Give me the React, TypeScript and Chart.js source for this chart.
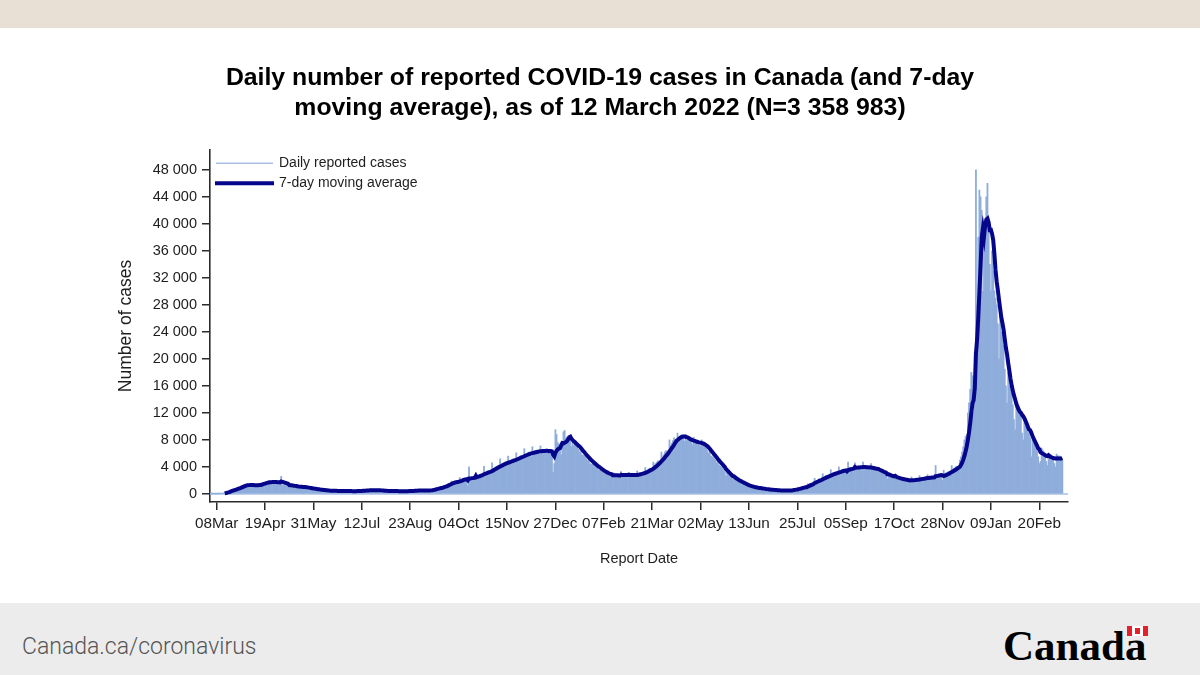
import React, { useEffect, useRef } from 'react';
import { Chart, registerables } from 'chart.js';

Chart.register(...registerables);

// ---------------- DATA ----------------
const START_DATE = '2020-03-02'; // first daily value (Monday)
const MA_FIRST_DATE = '2020-03-15'; // first day the 7-day average is shown

const TITLE_LINES = [
  'Daily number of reported COVID-19 cases in Canada (and 7-day',
  'moving average), as of 12 March 2022 (N=3 358 983)',
];

const SERIES_LABELS = ['Daily reported cases', '7-day moving average'];

// Daily reported cases, one week (Mon..Sun) per row, from 2020-03-02 to 2022-03-12
const DAILY_CASES: number[] = [
  3, 4, 5, 6, 8, 10, 12,
  20, 30, 45, 70, 110, 160, 250,
  250, 300, 380, 480, 560, 620, 700,
  650, 720, 800, 900, 980, 1050, 1100,
  1200, 1250, 1350, 1400, 1450, 1300, 1150,
  1250, 1300, 1400, 1350, 1300, 1250, 1150,
  1300, 1400, 1500, 1600, 1700, 1650, 1550,
  1700, 1750, 1850, 1900, 1800, 1750, 1700,
  1650, 1700, 1800, 1750, 1700, 1650, 2600,
  1350, 1300, 1400, 1350, 1300, 1250, 1200,
  1250, 1150, 1200, 1150, 1100, 1050, 1000,
  1000, 1050, 1100, 1050, 1000, 950, 900,
  900, 850, 850, 800, 780, 750, 700,
  720, 680, 650, 620, 600, 580, 560,
  560, 520, 510, 500, 480, 460, 440,
  480, 470, 460, 450, 440, 420, 400,
  460, 450, 440, 430, 420, 410, 400,
  430, 410, 400, 420, 410, 400, 390,
  420, 430, 450, 460, 470, 440, 420,
  520, 500, 540, 550, 560, 530, 500,
  580, 560, 570, 580, 560, 530, 500,
  520, 490, 480, 470, 460, 430, 400,
  420, 440, 430, 420, 430, 410, 390,
  420, 410, 400, 390, 400, 380, 370,
  430, 420, 410, 430, 420, 410, 400,
  480, 470, 500, 520, 510, 490, 480,
  560, 540, 530, 520, 510, 500, 480,
  500, 480, 560, 620, 680, 700, 720,
  800, 820, 880, 920, 960, 980, 1000,
  1200, 1250, 1300, 1400, 1500, 1550, 1600,
  1900, 1700, 1750, 1800, 1850, 1750, 1700,
  2400, 2100, 2200, 2300, 2250, 2100, 1900,
  1200, 4000, 2300, 2400, 2450, 2300, 2200,
  3200, 2600, 2700, 2800, 2900, 2750, 2600,
  4100, 3000, 3100, 3300, 3400, 3200, 3000,
  4600, 3700, 3800, 4000, 4100, 3900, 3700,
  5200, 4300, 4400, 4600, 4700, 4500, 4200,
  5600, 4700, 4800, 5100, 5200, 4900, 4600,
  6100, 5200, 5400, 5600, 5700, 5400, 5100,
  6700, 5700, 5900, 6100, 6200, 5900, 5500,
  7000, 6000, 6200, 6400, 6500, 6100, 5900,
  7100, 6100, 6300, 6500, 6600, 6200, 6000,
  6600, 6200, 6400, 6100, 3200, 4500, 9500,
  8800, 7600, 7400, 6500, 5800, 7200, 9200,
  9400, 8200, 8400, 8300, 8000, 7800, 7000,
  8000, 7200, 7300, 7000, 6900, 6600, 6200,
  6600, 5800, 5700, 5600, 5400, 5200, 4900,
  5300, 4500, 4400, 4400, 4300, 4100, 3900,
  4200, 3600, 3500, 3500, 3400, 3200, 3000,
  3400, 2900, 2900, 2900, 2850, 2700, 2600,
  2400, 3100, 2800, 2900, 2800, 2600, 2400,
  3300, 2700, 2800, 2900, 2900, 2700, 2500,
  3200, 2700, 2800, 2800, 2900, 2600, 2500,
  3400, 2900, 3000, 3100, 3200, 3000, 2800,
  3900, 3400, 3500, 3700, 3800, 3600, 3400,
  4700, 4300, 4500, 4700, 4900, 4700, 4500,
  6200, 5500, 5800, 6200, 6400, 6100, 6000,
  8000, 7200, 7500, 7900, 8300, 8100, 7800,
  9000, 8300, 8500, 8700, 8800, 8300, 7800,
  8800, 7900, 8000, 8100, 8000, 7600, 7300,
  8400, 7500, 7600, 7700, 7600, 7300, 7100,
  8000, 7200, 7000, 6900, 6800, 6400, 6000,
  6600, 5600, 5500, 5400, 5200, 5000, 4600,
  4800, 4300, 4100, 4000, 3900, 3600, 3300,
  2600, 3200, 2800, 2700, 2600, 2400, 2200,
  2400, 2000, 1950, 1900, 1850, 1700, 1550,
  1700, 1400, 1350, 1300, 1250, 1100, 1000,
  1250, 1000, 980, 950, 920, 850, 770,
  950, 800, 780, 760, 740, 670, 600,
  750, 650, 620, 600, 590, 560, 500,
  650, 560, 520, 510, 500, 450, 440,
  600, 510, 490, 480, 480, 440, 420,
  650, 640, 650, 680, 700, 660, 640,
  1000, 900, 950, 1000, 1050, 980, 950,
  1100, 1500, 1450, 1550, 1600, 1500, 1450,
  2300, 1900, 2000, 2100, 2200, 2000, 1900,
  3000, 2500, 2600, 2700, 2750, 2500, 2350,
  3600, 3000, 3100, 3150, 3200, 2900, 2750,
  4000, 3400, 3450, 3600, 3650, 3300, 3000,
  2900, 4700, 3900, 3900, 3950, 3600, 3300,
  4600, 3900, 4000, 4100, 4000, 3700, 3400,
  4700, 3900, 4000, 4000, 3900, 3600, 3500,
  4500, 3700, 3700, 3700, 3600, 3400, 3300,
  3900, 3200, 3100, 3100, 3000, 2900, 2800,
  2200, 3200, 2700, 2600, 2550, 2500, 2400,
  2700, 2250, 2200, 2200, 2200, 2100, 2050,
  2400, 2000, 1950, 2000, 1950, 1850, 1800,
  2500, 2050, 2100, 2100, 2100, 1950, 1900,
  2700, 2300, 2300, 2350, 2300, 2200, 2100,
  2850, 2400, 2450, 2450, 2450, 2300, 2250,
  4200, 2500, 2600, 2700, 2750, 2500, 2000,
  3500, 3000, 3100, 3200, 3300, 3100, 2850,
  4200, 3600, 3800, 3900, 4100, 4000, 3700,
  5000, 5500, 6200, 7000, 8000, 8500, 8800,
  12000, 13500, 15500, 18000, 17500, 12000, 21000,
  48000, 28000, 38000, 45000, 44000, 42000, 30000,
  40000, 39600, 44000, 46000, 40000, 34000, 30100,
  36000, 33000, 30100, 29000, 28000, 25200, 20000,
  27000, 24000, 23900, 22000, 18500, 16000, 13400,
  18000, 16000, 15500, 15000, 13200, 11000, 9500,
  13500, 12800, 12700, 12600, 12000, 9000, 8000,
  11500, 10000, 9800, 9600, 9000, 8300, 5500,
  8000, 7500, 7200, 7000, 6700, 5500, 4500,
  4800, 6800, 6500, 6200, 5900, 4800, 4200,
  5800, 5600, 5800, 5600, 5400, 4500, 4000,
  5900, 5700, 5500, 5600, 5400, 5000,
];

const X_TICK_DATES = [
  '2020-03-08', '2020-04-19', '2020-05-31', '2020-07-12', '2020-08-23', '2020-10-04',
  '2020-11-15', '2020-12-27', '2021-02-07', '2021-03-21', '2021-05-02', '2021-06-13',
  '2021-07-25', '2021-09-05', '2021-10-17', '2021-11-28', '2022-01-09', '2022-02-20',
];
const X_TICK_LABELS = [
  '08Mar', '19Apr', '31May', '12Jul', '23Aug', '04Oct', '15Nov', '27Dec', '07Feb',
  '21Mar', '02May', '13Jun', '25Jul', '05Sep', '17Oct', '28Nov', '09Jan', '20Feb',
];
const Y_TICKS = [0, 4000, 8000, 12000, 16000, 20000, 24000, 28000, 32000, 36000, 40000, 44000, 48000];

const X_TITLE = 'Report Date';
const Y_TITLE = 'Number of cases';

// ---------------- STYLE ----------------
const FONT = "'Liberation Sans', Arial, Helvetica, sans-serif";
const BAR_COLOR = 'rgb(143,173,219)';
const BASE_COLOR = 'rgb(168,192,228)';
const MA_COLOR = '#06068a';
const AXIS_COLOR = '#2b2b2b';
const TEXT_COLOR = '#1e1e1e';

const dayIndex = (iso: string) => {
  const [y, m, d] = iso.split('-').map(Number);
  const [y0, m0, d0] = START_DATE.split('-').map(Number);
  return Math.round((Date.UTC(y, m - 1, d) - Date.UTC(y0, m0 - 1, d0)) / 86400000);
};

const fmtThousands = (v: number) => String(v).replace(/\B(?=(\d{3})+(?!\d))/g, ' ');

const baselinePlugin = {
  id: 'needleBaseline',
  beforeDatasetsDraw(chart: any) {
    const { ctx, chartArea, scales } = chart;
    const y = scales.y.getPixelForValue(0);
    ctx.save();
    ctx.strokeStyle = BASE_COLOR;
    ctx.lineWidth = 1.5;
    ctx.beginPath();
    ctx.moveTo(chartArea.left, y);
    ctx.lineTo(chartArea.right, y);
    ctx.stroke();
    ctx.restore();
  },
};

const insetLegendPlugin = {
  id: 'insetLegend',
  afterDraw(chart: any) {
    const { ctx, chartArea } = chart;
    const ds = chart.data.datasets;
    const x0 = chartArea.left;
    const y0 = chartArea.top;
    ctx.save();
    ctx.font = `14px ${FONT}`;
    ctx.fillStyle = TEXT_COLOR;
    ctx.textBaseline = 'middle';
    ctx.textAlign = 'left';
    // row 1: thin light line
    ctx.strokeStyle = BASE_COLOR;
    ctx.lineWidth = 1.5;
    ctx.beginPath();
    ctx.moveTo(x0 + 6, y0 + 13.3);
    ctx.lineTo(x0 + 63, y0 + 13.3);
    ctx.stroke();
    ctx.fillText(ds[0].label, x0 + 69, y0 + 13.5);
    // row 2: thick navy line
    ctx.strokeStyle = MA_COLOR;
    ctx.lineWidth = 4;
    ctx.beginPath();
    ctx.moveTo(x0 + 5, y0 + 33.3);
    ctx.lineTo(x0 + 64, y0 + 33.3);
    ctx.stroke();
    ctx.fillText(ds[1].label, x0 + 69, y0 + 33.5);
    ctx.restore();
  },
};

export default function App() {
  const ref = useRef<HTMLCanvasElement>(null);

  useEffect(() => {
    if (!ref.current) return;
    const bars = DAILY_CASES.map((v, i) => ({ x: i, y: v }));
    const maStart = dayIndex(MA_FIRST_DATE);
    const ma = DAILY_CASES.map((_, i) => {
      if (i < maStart || i < 6) return { x: i, y: null as number | null };
      let s = 0;
      for (let k = i - 6; k <= i; k++) s += DAILY_CASES[k];
      return { x: i, y: s / 7 };
    });
    const tickIdx = X_TICK_DATES.map(dayIndex);
    const firstTick = tickIdx[0];

    const chart = new Chart(ref.current, {
      type: 'bar',
      data: {
        datasets: [
          {
            type: 'bar',
            label: SERIES_LABELS[0],
            data: bars as any,
            backgroundColor: BAR_COLOR,
            borderWidth: 0,
            barPercentage: 1,
            categoryPercentage: 1,
            order: 2,
          } as any,
          {
            type: 'line',
            label: SERIES_LABELS[1],
            data: ma as any,
            borderColor: MA_COLOR,
            borderWidth: 4,
            pointRadius: 0,
            tension: 0,
            fill: false,
            order: 1,
          } as any,
        ],
      },
      options: {
        animation: false,
        responsive: false,
        events: [],
        layout: { padding: { left: 100, right: 100, top: 0, bottom: 31 } },
        plugins: {
          legend: { display: false },
          tooltip: { enabled: false },
          title: {
            display: true,
            text: TITLE_LINES,
            color: '#000',
            font: { family: FONT, size: 24.8, weight: 'bold', lineHeight: 29.5 / 24.8 },
            padding: { top: 35.5, bottom: 27.5 },
          },
        },
        scales: {
          x: {
            type: 'linear',
            offset: false,
            min: firstTick - 5.8,
            max: firstTick + 738.9,
            afterBuildTicks: (s: any) => {
              s.ticks = tickIdx.map((v) => ({ value: v }));
            },
            afterFit: (s: any) => {
              s.height = 70;
            },
            ticks: {
              autoSkip: false,
              maxRotation: 0,
              minRotation: 0,
              padding: 5,
              color: TEXT_COLOR,
              font: { family: FONT, size: 15.3 },
              callback: (_v: any, i: number) => X_TICK_LABELS[i],
            },
            grid: {
              offset: false,
              drawOnChartArea: false,
              drawTicks: true,
              tickLength: 8,
              color: AXIS_COLOR,
              lineWidth: 1.5,
            },
            border: { display: true, color: AXIS_COLOR, width: 1.6 },
            title: {
              display: true,
              text: X_TITLE,
              color: TEXT_COLOR,
              font: { family: FONT, size: 14.5 },
              padding: { top: 0, bottom: 4.6 },
            },
          } as any,
          y: {
            type: 'linear',
            min: -1200,
            max: 50950,
            afterBuildTicks: (s: any) => {
              s.ticks = Y_TICKS.map((v) => ({ value: v }));
            },
            afterFit: (s: any) => {
              s.width = 110;
            },
            ticks: {
              padding: 5,
              color: TEXT_COLOR,
              font: { family: FONT, size: 14.5 },
              callback: (v: any) => fmtThousands(Number(v)),
            },
            grid: {
              drawOnChartArea: false,
              drawTicks: true,
              tickLength: 8,
              color: AXIS_COLOR,
              lineWidth: 1.5,
            },
            border: { display: true, color: AXIS_COLOR, width: 1.6 },
            title: {
              display: true,
              text: Y_TITLE,
              color: TEXT_COLOR,
              font: { family: FONT, size: 17.5 },
              padding: { top: 15.5, bottom: 0 },
            },
          } as any,
          // empty right-hand spacer so the title is centred on the page
          ySpacer: {
            type: 'linear',
            position: 'right',
            display: true,
            ticks: { display: false },
            grid: { display: false, drawTicks: false },
            border: { display: false },
            afterFit: (s: any) => {
              s.width = 32;
            },
          } as any,
        },
      },
      plugins: [baselinePlugin, insetLegendPlugin],
    } as any);

    return () => chart.destroy();
  }, []);

  return (
    <div
      style={{
        position: 'fixed',
        left: 0,
        top: 0,
        width: 1200,
        height: 675,
        background: '#ffffff',
        overflow: 'hidden',
      }}
    >
      <div style={{ position: 'absolute', left: 0, top: 0, width: 1200, height: 28, background: '#e8dfd5' }} />
      <canvas
        ref={ref}
        width={1200}
        height={575}
        style={{ position: 'absolute', left: 0, top: 28, width: 1200, height: 575, display: 'block' }}
      />
      <div style={{ position: 'absolute', left: 0, top: 603, width: 1200, height: 72, background: '#ececec' }}>
        <div
          style={{
            position: 'absolute',
            left: 22,
            top: 31,
            height: 25,
            lineHeight: '25px',
            fontFamily: "Roboto, 'Liberation Sans', sans-serif",
            fontWeight: 300,
            fontSize: 23,
            color: '#555555',
            whiteSpace: 'nowrap',
          }}
        >
          Canada.ca/coronavirus
        </div>
        <div
          style={{
            position: 'absolute',
            left: 1003,
            top: 21,
            height: 43,
            lineHeight: 1,
            fontFamily: "'Liberation Serif', 'Times New Roman', serif",
            fontWeight: 'bold',
            fontSize: 43,
            color: '#000',
            whiteSpace: 'nowrap',
          }}
        >
          Canada
        </div>
        <div style={{ position: 'absolute', left: 1127, top: 23, width: 21, height: 10, display: 'flex' }}>
          <div style={{ width: 5, height: 10, background: '#e4202a' }} />
          <div style={{ width: 11, height: 10, background: '#ffffff', position: 'relative' }}>
            <div style={{ position: 'absolute', left: 3, top: 2, width: 5, height: 6, background: '#e4202a' }} />
          </div>
          <div style={{ width: 5, height: 10, background: '#e4202a' }} />
        </div>
      </div>
    </div>
  );
}
